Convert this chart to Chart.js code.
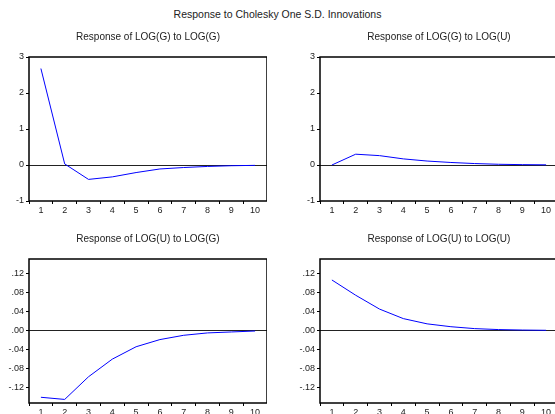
<!DOCTYPE html>
<html>
<head>
<meta charset="utf-8">
<script src="https://cdn.jsdelivr.net/npm/chart.js@4/dist/chart.umd.min.js"></script>
<style>
  html, body { margin: 0; padding: 0; background: #fff; overflow: hidden; width: 555px; height: 414px; }
  canvas { position: absolute; }
  #main { position: absolute; top: 8px; left: 0; width: 555px; text-align: center;
          font: 10.5px Arial, "Liberation Sans", sans-serif; color: #222; }
</style>
</head>
<body>
<div id="main">Response to Cholesky One S.D. Innovations</div>
<canvas id="c1" style="left:0;top:28px"></canvas>
<canvas id="c2" style="left:291px;top:28px"></canvas>
<canvas id="c3" style="left:0;top:230px"></canvas>
<canvas id="c4" style="left:291px;top:230px"></canvas>
<script>
const periods = ['1', '2', '3', '4', '5', '6', '7', '8', '9', '10']

// impulse responses
const gToG = [2.68, 0.03, -0.40, -0.33, -0.21, -0.11, -0.07, -0.04, -0.02, -0.01]
const gToU = [0.0, 0.30, 0.26, 0.17, 0.11, 0.07, 0.04, 0.02, 0.01, 0.005]
const uToG = [-0.140, -0.1445, -0.097, -0.060, -0.034, -0.019, -0.010, -0.005, -0.003, -0.001]
const uToU = [0.106, 0.074, 0.045, 0.025, 0.014, 0.008, 0.004, 0.002, 0.001, 0.0005]

const topTicks = [-1, 0, 1, 2, 3]
const bottomTicks = [-0.12, -0.08, -0.04, 0, 0.04, 0.08, 0.12]

Chart.defaults.font.family = 'Arial, "Liberation Sans", sans-serif'
Chart.defaults.color = '#222'

const frame = {
  id: 'frame',
  afterDraw(chart) {
    const { ctx, chartArea: a } = chart
    ctx.save()
    ctx.strokeStyle = '#000'
    ctx.lineWidth = 1.5
    ctx.strokeRect(a.left, a.top, a.right - a.left, a.bottom - a.top)
    ctx.fillStyle = '#222'
    ctx.font = '10px Arial, "Liberation Sans", sans-serif'
    ctx.textAlign = 'center'
    ctx.textBaseline = 'middle'
    ctx.fillText(chart.options.plugins.frame.text, (a.left + a.right) / 2, a.top - 20)
    ctx.restore()
  }
}

const setupChart = (id, title, values, yMin, yMax, yTicks, fmt) => {
  const el = document.getElementById(id)
  el.width = 267
  el.height = 187
  el.style.width = '267px'
  el.style.height = '187px'
  return new Chart(el, {
    type: 'line',
    data: {
      labels: periods,
      datasets: [{
        data: values,
        borderColor: '#0000ff',
        borderWidth: 1,
        pointRadius: 0,
        tension: 0
      }]
    },
    options: {
      responsive: false,
      animation: false,
      layout: { padding: { top: 29, right: 0, bottom: 0, left: 0 } },
      plugins: {
        legend: { display: false },
        tooltip: { enabled: false },
        frame: { text: title }
      },
      scales: {
        x: {
          type: 'category',
          offset: true,
          border: { display: false },
          grid: { offset: true, drawOnChartArea: false, tickLength: 3, tickColor: '#000' },
          ticks: { font: { size: 9 }, padding: 1, maxRotation: 0, autoSkip: false },
          afterFit: s => { s.height = 14 }
        },
        y: {
          min: yMin,
          max: yMax,
          border: { display: false },
          grid: {
            color: c => (c.tick && c.tick.value === 0 ? '#222' : 'transparent'),
            tickColor: '#000',
            tickLength: 3,
            lineWidth: 1
          },
          ticks: { font: { size: 9 }, padding: 2, callback: v => fmt(v) },
          afterBuildTicks: s => { s.ticks = yTicks.map(v => ({ value: v })) },
          afterFit: s => { s.width = 29 }
        }
      }
    },
    plugins: [frame]
  })
}

const whole = v => String(v)
const decimal = v => v.toFixed(2).replace('0.', '.')

setupChart('c1', 'Response of LOG(G) to LOG(G)', gToG, -1, 3, topTicks, whole)
setupChart('c2', 'Response of LOG(G) to LOG(U)', gToU, -1, 3, topTicks, whole)
setupChart('c3', 'Response of LOG(U) to LOG(G)', uToG, -0.152, 0.15, bottomTicks, decimal)
setupChart('c4', 'Response of LOG(U) to LOG(U)', uToU, -0.152, 0.15, bottomTicks, decimal)
</script>
</body>
</html>
